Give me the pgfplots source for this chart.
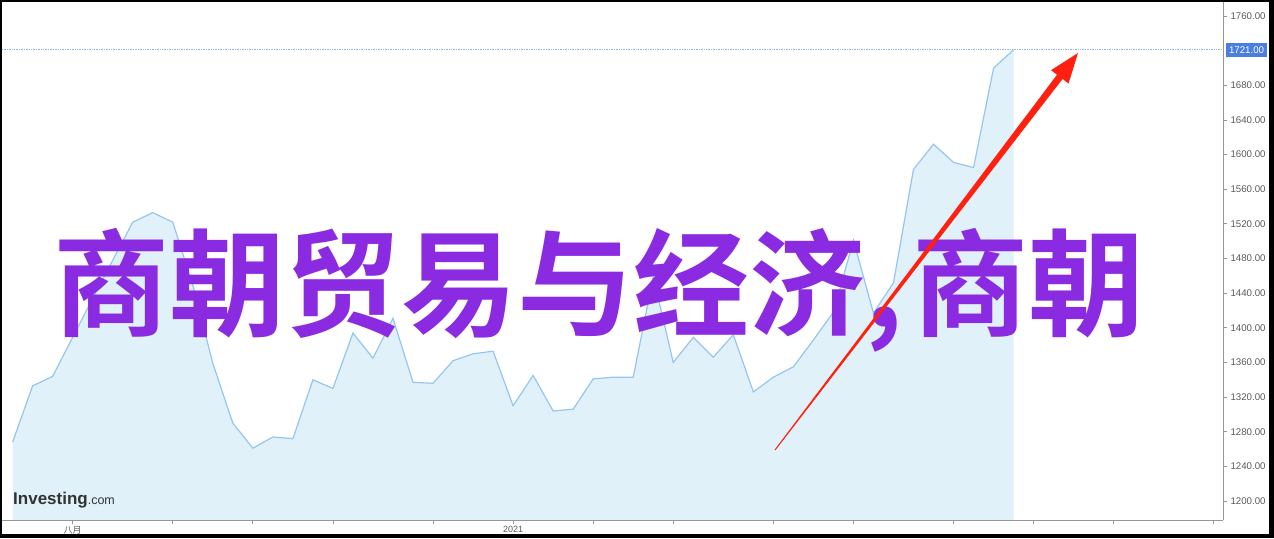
\documentclass[border=0pt]{standalone}
\usepackage{fontspec}
\setmainfont{Liberation Sans}
\newfontfamily\cjk{Noto Sans CJK SC}[BoldFont={Noto Sans CJK SC Bold}]
\usepackage{pgfplots}
\pgfplotsset{compat=1.18}
\usepackage{pgfplotstable}
\definecolor{areafill}{RGB}{224,241,250}
\definecolor{arealine}{RGB}{150,198,238}
\definecolor{bigpurple}{RGB}{138,43,226}
\definecolor{arrowred}{RGB}{255,32,16}
\definecolor{boxblue}{RGB}{74,127,224}
\definecolor{axisgray}{RGB}{150,150,150}
\definecolor{labelgray}{RGB}{90,90,90}
\definecolor{refline}{RGB}{150,180,235}
\pgfplotstableread{
i v
0 1268
1 1333
2 1344
3 1389
4 1434
5 1478
6 1522
7 1533
8 1522
9 1449
10 1359
11 1290
12 1261
13 1274
14 1272
15 1340
16 1330
17 1394
18 1365
19 1411
20 1337
21 1336
22 1362
23 1370
24 1373
25 1310
26 1345
27 1304
28 1306
29 1341
30 1343
31 1343
32 1459
33 1360
34 1389
35 1366
36 1392
37 1326
38 1343
39 1355
40 1386
41 1418
42 1501
43 1417
44 1452
45 1583
46 1612
47 1591
48 1585
49 1700
50 1721
}\prices
\begin{document}
\begin{tikzpicture}[x=1pt,y=1pt]
\fill[black] (0,0) rectangle (1274,538);
\fill[white] (2,4) rectangle (1269,536);
\begin{axis}[
  at={(2pt,18pt)}, anchor=south west,
  scale only axis, width=1221pt, height=518pt,
  xmin=-0.53, xmax=60.46, ymin=1178.1, ymax=1776.2,
  axis x line*=bottom, axis y line*=right,
  axis line style={draw=axisgray, line width=0.9pt, -},
  tick align=outside, major tick length=4pt,
  tick style={draw=axisgray, line width=0.8pt},
  xtick={3,8,12,16,21,25,29,33,38,42,47,51,55,60},
  xticklabels={{\cjk 八月},,,,,2021,,,,,,,,},
  xticklabel style={font=\fontsize{9}{10}\selectfont, text=labelgray, yshift=1pt},
  ytick={1200,1240,1280,1320,1360,1400,1440,1480,1520,1560,1600,1640,1680,1760},
  yticklabel style={font=\fontsize{9.7}{10}\selectfont, text=labelgray, anchor=west},
  /pgf/number format/assume math mode=true,
  /pgf/number format/fixed, /pgf/number format/fixed zerofill,
  /pgf/number format/precision=2, /pgf/number format/1000 sep={},
]
\addplot[draw=none, fill=areafill] table[x=i, y=v] {\prices} \closedcycle;
\addplot[color=arealine, line width=1.2pt, mark=none] table[x=i, y=v] {\prices};
\draw[refline, line width=0.7pt, densely dotted] (axis cs:-0.53,1721) -- (axis cs:60.46,1721);
\coordinate (lab) at (axis cs:60.46,1721);
\end{axis}
\node[anchor=west, fill=boxblue, text=white, inner xsep=3.3pt, inner ysep=0pt, minimum height=13.5pt,
  font=\fontsize{9.7}{10}\selectfont] at ([xshift=2.5pt]lab) {1721.00};
\node[anchor=base west, inner sep=0pt, text=black!80] at (13,33)
  {\fontsize{17}{17}\selectfont\bfseries Investing\fontsize{12.5}{13}\selectfont\mdseries .com};
\node[anchor=base west, inner sep=0pt, text=bigpurple] at (53,210)
  {\cjk\bfseries\fontsize{116}{116}\selectfont 商朝贸易与经济,\hspace{10pt}商朝};
\fill[arrowred] (774.6,88.3) -- (1057.02,463.27) -- (1051.05,467.82) -- (1078,485)
  -- (1068.55,454.48) -- (1062.58,459.03) -- (775.4,87.7) -- cycle;
\end{tikzpicture}
\end{document}
